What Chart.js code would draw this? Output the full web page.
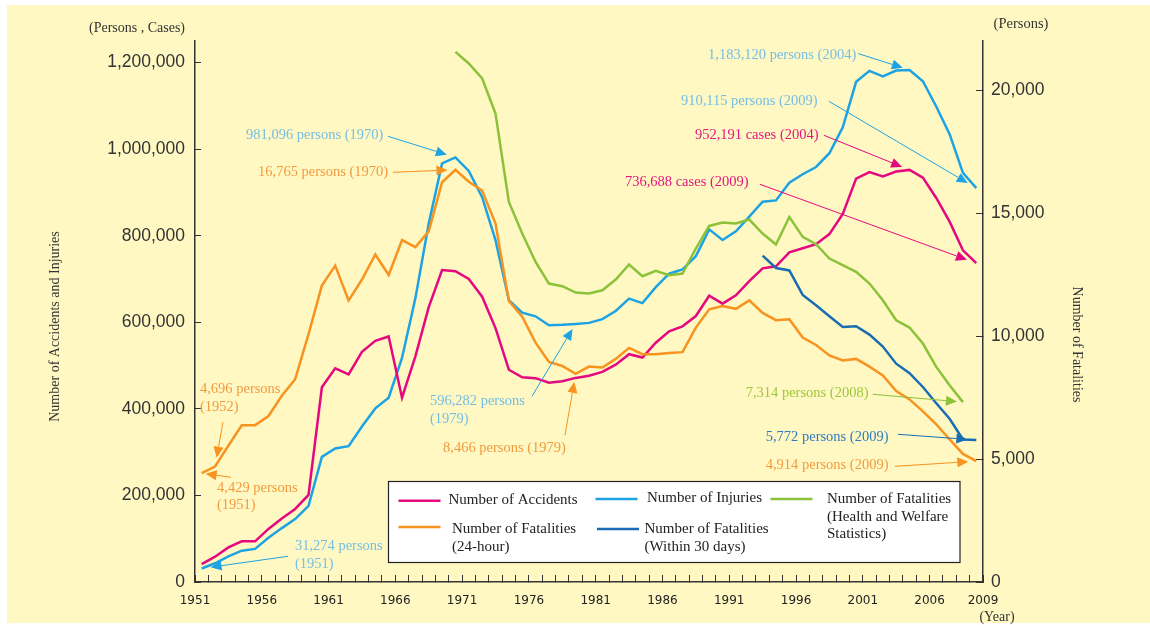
<!DOCTYPE html>
<html><head><meta charset="utf-8">
<script src="https://cdn.jsdelivr.net/npm/chart.js@4.4.1/dist/chart.umd.min.js"></script>
<style>html,body{margin:0;padding:0;background:#fff;overflow:hidden}#wrap{width:1150px;height:625px}</style>
</head><body><div id="wrap"><canvas id="c" width="1150" height="625"></canvas></div>
<script>
const years = [1951,1952,1953,1954,1955,1956,1957,1958,1959,1960,1961,1962,1963,1964,1965,1966,1967,1968,1969,1970,1971,1972,1973,1974,1975,1976,1977,1978,1979,1980,1981,1982,1983,1984,1985,1986,1987,1988,1989,1990,1991,1992,1993,1994,1995,1996,1997,1998,1999,2000,2001,2002,2003,2004,2005,2006,2007,2008,2009];
const accidents = [41423,58487,80019,93869,93981,122691,146833,168799,201292,449917,493693,479825,531966,557183,567286,425944,521481,635056,720880,718080,700290,659283,586713,490452,472938,471041,460649,464037,471573,476677,485578,502261,526362,518642,552788,579190,590723,614481,661363,643097,662392,695345,724675,729461,761794,771085,780401,803882,850371,931950,947253,936950,948281,952191,934346,887267,832704,766394,736688];
const injuries = [31274,43321,59280,72390,76501,102072,124530,145432,175951,289156,308697,313813,359089,401117,425666,517775,655377,828071,967000,981096,949689,889198,789948,651420,622467,613957,593211,594116,596282,598719,607346,626192,654822,644321,681346,712330,722179,752845,814832,790295,810245,844003,878633,881723,922677,942204,958925,990675,1050399,1155707,1181039,1168029,1181681,1183120,1157113,1098564,1034652,945504,910115];
const fatal24h = [4429,4696,5544,6374,6379,6751,7575,8248,10079,12055,12865,11445,12301,13318,12484,13904,13618,14256,16257,16765,16278,15918,14574,11432,10792,9734,8945,8783,8466,8760,8719,9073,9520,9262,9261,9317,9347,10344,11086,11227,11109,11452,10942,10649,10684,9943,9640,9211,9006,9073,8757,8396,7768,7425,6937,6415,5796,5209,4914];
const years30d = [1993,1994,1995,1996,1997,1998,1999,2000,2001,2002,2003,2004,2005,2006,2007,2008,2009];
const fatal30d = [13269,12768,12670,11674,11254,10805,10372,10403,10060,9575,8877,8492,7931,7272,6639,5796,5772];
const yearsHW = [1970,1971,1972,1973,1974,1975,1976,1977,1978,1979,1980,1981,1982,1983,1984,1985,1986,1987,1988,1989,1990,1991,1992,1993,1994,1995,1996,1997,1998,1999,2000,2001,2002,2003,2004,2005,2006,2007,2008];
const fatalHW = [21558,21085,20475,19052,15457,14171,13016,12137,12028,11771,11731,11865,12300,12910,12434,12650,12475,12544,13561,14480,14618,14578,14740,14171,13724,14847,14033,13736,13153,12882,12610,12137,11458,10645,10348,9697,8746,8001,7314];
const xTickLabels = ['1951','1956','1961','1966','1971','1976','1981','1986','1991','1996','2001','2006','2009'];
const leftTicks = [0,200000,400000,600000,800000,1000000,1200000];
const rightTicks = [0,5000,10000,15000,20000];

const C = {acc:'#E5097F', inj:'#1DA3E3', f24:'#F7931E', f30:'#1A6DB3', hw:'#8CC23A'};
const T = {acc:'#E4157F', inj:'#74BEE6', f24:'#F29B3E', f30:'#2F7BC0', hw:'#9DC83C'};

const pts = (xs, ys) => ys.map((v, i) => ({x: xs[i], y: v}));

const datasets = [
  {label:'Number of Fatalities (Health and Welfare Statistics)', data: pts(yearsHW, fatalHW), yAxisID:'y1', borderColor:C.hw, legend:['Number of Fatalities','(Health and Welfare','Statistics)'], unit:'persons'},
  {label:'Number of Fatalities (24-hour)', data: pts(years, fatal24h), yAxisID:'y1', borderColor:C.f24, legend:['Number of Fatalities','(24-hour)'], unit:'persons'},
  {label:'Number of Fatalities (Within 30 days)', data: pts(years30d, fatal30d), yAxisID:'y1', borderColor:C.f30, legend:['Number of Fatalities','(Within 30 days)'], unit:'persons'},
  {label:'Number of Accidents', data: pts(years, accidents), yAxisID:'y', borderColor:C.acc, legend:['Number of Accidents'], unit:'cases'},
  {label:'Number of Injuries', data: pts(years, injuries), yAxisID:'y', borderColor:C.inj, legend:['Number of Injuries'], unit:'persons'}
];
datasets.forEach(d => { d.borderWidth = 2.5; d.pointRadius = 0; d.fill = false; d.tension = 0; });

// annotation layout: text anchor and arrow start in data coords (year, left-axis value)
const notes = [
  {ds:4, year:2004, at:[1988.91,1216900], from:[2000.16,1220900], gap:7, c:'inj'},
  {ds:4, year:2009, at:[1986.88,1110700], from:[1997.96,1110700], gap:10, c:'inj'},
  {ds:3, year:2004, at:[1987.93,1032100], from:[1997.59,1032100], gap:8, c:'acc'},
  {ds:3, year:2009, at:[1982.69,923500], from:[1992.80,918900], gap:10, c:'acc'},
  {ds:4, year:1970, at:[1954.32,1032100], from:[1964.95,1029800], gap:9, c:'inj'},
  {ds:1, year:1970, at:[1955.22,946600], from:[1965.32,946600], gap:8, c:'f24'},
  {ds:1, year:1952, at:[1950.87,445200], from:[1952.59,369000], gap:9, c:'f24', split:true},
  {ds:1, year:1951, at:[1952.15,217700], from:[1953.19,241900], gap:4, c:'f24', split:true},
  {ds:4, year:1951, at:[1957.98,82500], from:[1957.46,59400], gap:9, c:'inj', split:true},
  {ds:4, year:1979, at:[1968.09,417500], from:[1975.73,429100], gap:6, c:'inj', split:true},
  {ds:1, year:1979, at:[1969.07,308900], from:[1978.20,338900], gap:8, c:'f24'},
  {ds:0, year:2008, at:[1991.73,436000], from:[2001.25,433700], gap:6, c:'hw'},
  {ds:2, year:2009, at:[1993.23,334300], from:[2003.13,341300], gap:9, c:'f30'},
  {ds:1, year:2009, at:[1993.23,269600], from:[2002.90,267300], gap:8, c:'f24'}
];

const SERIF = '"Liberation Serif", "DejaVu Serif", serif';

const bgPlugin = {
  id:'bg',
  beforeDraw(chart){
    const {ctx, width, height} = chart;
    ctx.save();
    ctx.fillStyle = '#ffffff'; ctx.fillRect(0,0,width,height);
    ctx.fillStyle = '#FFF8C3'; ctx.fillRect(7,5,width-7,height-7);
    ctx.restore();
  }
};

const textPlugin = {
  id:'texts',
  afterDraw(chart){
    const {ctx, chartArea:a} = chart;
    ctx.save();
    ctx.fillStyle = '#333'; ctx.textBaseline = 'middle'; ctx.textAlign = 'center';
    ctx.font = '14px ' + SERIF;
    ctx.fillText('(Persons , Cases)', a.left - 58, a.top - 13);
    ctx.font = '14.5px ' + SERIF;
    ctx.fillText('(Persons)', a.right + 38, a.top - 17);
    ctx.font = '14px ' + SERIF;
    ctx.fillText('(Year)', a.right + 14, a.bottom + 35);
    ctx.save(); ctx.translate(55, (a.top + a.bottom)/2 + 15); ctx.rotate(-Math.PI/2);
    ctx.fillText('Number of Accidents and Injuries', 0, 0); ctx.restore();
    ctx.save(); ctx.translate(1077, (a.top + a.bottom)/2 + 33); ctx.rotate(Math.PI/2);
    ctx.fillText('Number of Fatalities', 0, 0); ctx.restore();

    // legend box
    const bx = a.left + 193.5, by = a.top + 440.5, bw = 571.5, bh = 81;
    ctx.fillStyle = '#fff'; ctx.fillRect(bx, by, bw, bh);
    ctx.strokeStyle = '#222'; ctx.lineWidth = 1.2; ctx.strokeRect(bx, by, bw, bh);
    const items = [
      {ds:3, lx:10, ly:19.3, tx:60, ty:18.5},
      {ds:1, lx:10, ly:45.6, tx:63.5, ty:47.6},
      {ds:4, lx:207, ly:17.6, tx:258.5, ty:16.5},
      {ds:2, lx:208.5, ly:47.6, tx:256, ty:47.6},
      {ds:0, lx:382, ly:17.6, tx:438.5, ty:17.6}
    ];
    ctx.font = '15px ' + SERIF; ctx.textAlign = 'left'; ctx.textBaseline = 'middle';
    items.forEach(it => {
      const d = chart.data.datasets[it.ds];
      ctx.strokeStyle = d.borderColor; ctx.lineWidth = 2.5;
      ctx.beginPath(); ctx.moveTo(bx + it.lx, by + it.ly); ctx.lineTo(bx + it.lx + 42, by + it.ly); ctx.stroke();
      ctx.fillStyle = '#222';
      d.legend.forEach((l, i) => ctx.fillText(l, bx + it.tx, by + it.ty + i * 17.5));
    });
    ctx.restore();
  }
};

const notePlugin = {
  id:'notes',
  afterDatasetsDraw(chart){
    const {ctx, scales:{x, y}} = chart;
    ctx.save();
    notes.forEach(n => {
      const d = chart.data.datasets[n.ds];
      const p = d.data.find(q => q.x === n.year);
      const sc = chart.scales[d.yAxisID];
      const tx = x.getPixelForValue(p.x), ty = sc.getPixelForValue(p.y);
      const fx = x.getPixelForValue(n.from[0]), fy = y.getPixelForValue(n.from[1]);
      const dx = tx - fx, dy = ty - fy, len = Math.hypot(dx, dy);
      const ux = dx/len, uy = dy/len;
      const hx = tx - ux*n.gap, hy = ty - uy*n.gap;
      const hl = 11, hw = 5;
      const bx = hx - ux*hl, by = hy - uy*hl;
      ctx.strokeStyle = C[n.c]; ctx.lineWidth = 1;
      ctx.beginPath(); ctx.moveTo(fx, fy); ctx.lineTo(bx, by); ctx.stroke();
      ctx.fillStyle = C[n.c];
      ctx.beginPath(); ctx.moveTo(hx, hy); ctx.lineTo(bx - uy*hw, by + ux*hw); ctx.lineTo(bx + uy*hw, by - ux*hw); ctx.closePath(); ctx.fill();
      const v = p.y.toLocaleString('en-US') + ' ' + d.unit;
      const lines = n.split ? [v, '(' + p.x + ')'] : [v + ' (' + p.x + ')'];
      ctx.fillStyle = T[n.c]; ctx.font = '14.5px ' + SERIF; ctx.textAlign = 'left'; ctx.textBaseline = 'middle';
      const ax = x.getPixelForValue(n.at[0]), ay = y.getPixelForValue(n.at[1]);
      lines.forEach((l, i) => ctx.fillText(l, ax, ay + i * 17.5));
    });
    ctx.restore();
  }
};

const firstYear = years[0], lastYear = years[years.length - 1];

new Chart(document.getElementById('c'), {
  type:'line',
  data:{datasets},
  options:{
    responsive:false, animation:false, devicePixelRatio:1,
    layout:{padding:{top:41, left:0, right:0, bottom:0}},
    plugins:{legend:{display:false}, tooltip:{enabled:false}},
    scales:{
      x:{
        type:'linear', min: firstYear - 0.5, max: lastYear + 0.5,
        afterBuildTicks(s){ s.ticks = years.map(v => ({value: v - 0.5})).concat([{value: lastYear + 0.5}]); },
        afterFit(s){ s.height = 43; },
        grid:{display:true, drawOnChartArea:false, drawTicks:true, tickLength:-7, tickColor:'#333', tickWidth:1},
        border:{display:true, color:'#333', width:1.5},
        ticks:{
          autoSkip:false, maxRotation:0, minRotation:0, padding:19, color:'#222',
          font:{family:'"DejaVu Sans", sans-serif', size:12},
          callback(v){
            if (v === lastYear + 0.5) return String(lastYear);
            const yr = String(v + 0.5);
            return (xTickLabels.includes(yr) && v + 0.5 !== lastYear) ? yr : '';
          }
        }
      },
      y:{
        type:'linear', position:'left', min:0, max:1250000,
        afterBuildTicks(s){ s.ticks = leftTicks.map(v => ({value:v})); },
        afterFit(s){ s.width = 195; },
        grid:{display:true, drawOnChartArea:false, drawTicks:true, tickLength:-6, tickColor:'#333', tickWidth:1},
        border:{display:true, color:'#333', width:1.5},
        ticks:{padding:16, color:'#333', font:{family:'"Liberation Sans", Arial, sans-serif', size:17.5}, callback:v => v.toLocaleString('en-US')}
      },
      y1:{
        type:'linear', position:'right', min:0, max:22000,
        afterBuildTicks(s){ s.ticks = rightTicks.map(v => ({value:v})); },
        afterFit(s){ s.width = 167; },
        grid:{display:true, drawOnChartArea:false, drawTicks:true, tickLength:-7, tickColor:'#333', tickWidth:1},
        border:{display:true, color:'#333', width:1.5},
        ticks:{padding:15, color:'#333', font:{family:'"Liberation Sans", Arial, sans-serif', size:17.5}, callback:v => v.toLocaleString('en-US')}
      }
    }
  },
  plugins:[bgPlugin, notePlugin, textPlugin]
});
</script>
</body></html>
